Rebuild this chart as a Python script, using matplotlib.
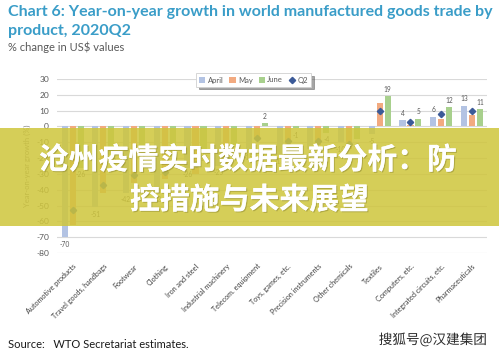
import matplotlib
matplotlib.use("Agg")
import matplotlib.pyplot as plt
import matplotlib.patheffects as pe
from matplotlib.patches import Rectangle
import numpy as np

categories = ["Automotive products", "Travel goods, handbags", "Footwear", "Clothing",
              "Iron and steel", "Industrial machinery", "Telecom. equipment",
              "Toys, games, etc.", "Precision instruments", "Other chemicals",
              "Textiles", "Computers, etc.", "Integrated circuits, etc.", "Pharmaceuticals"]
april = [-70, -51, -42, -42, -26, -25, -15, -18, -14, -10, -5, 4, 6, 13]
may = [-62, -42, -36, -33, -30, -24, -8, -12, -12, -14, 15, 1, 5, 7]
june = [-26, -18, -15, -12, -16, -12, 2, -1, -4, -8, 19, 5, 12, 11]
q2 = [-53, -37, -31, -29, -24, -20, -7, -9, -9, -11, 10, 3, 8, 10]
yticks = [30, 20, 10, 0, -10, -20, -30, -40, -50, -60, -70, -80]

W, H = 499, 356
fig = plt.figure(figsize=(W / 100, H / 100), dpi=100)
fig.patch.set_facecolor("white")

def fx(px):
    return px / W

def fy(py):
    return 1 - py / H

left, right = 57.35, 487.2
bottom_px, top_px = 253, 79
ax = fig.add_axes([fx(left), fy(bottom_px), fx(right - left), fy(top_px) - fy(bottom_px)])
ax.set_xlim(-0.5, 13.5)
ax.set_ylim(-80, 30)

c_apr, c_may, c_jun, c_q2 = "#b3c3e3", "#f2aa80", "#a8d08d", "#3b5a98"
x = np.arange(len(categories))
bw = 0.2
off = 0.26
b1 = ax.bar(x - off, april, bw, color=c_apr, zorder=2, label="April")
b2 = ax.bar(x, may, bw, color=c_may, zorder=2, label="May")
b3 = ax.bar(x + off, june, bw, color=c_jun, zorder=2, label="June")
l4, = ax.plot(x, q2, "D", ms=3.2, color=c_q2, zorder=3, label="Q2", linestyle="none")

for xs, vals in ((x - off, april), (x + off, june)):
    for xi, v in zip(xs, vals):
        dy = 2.2 if v >= 0 else -2.2
        ax.text(xi, v + dy, f"{v}", ha="center", va="bottom" if v >= 0 else "top",
                fontsize=4.8, color="#595959", family="Lato", zorder=4)

ax.set_yticks(yticks)
ax.set_yticklabels([str(t) for t in yticks], fontsize=6, color="#595959", family="Lato")
ax.set_xticks(x)
ax.set_xticklabels(categories, rotation=45, ha="right", rotation_mode="anchor",
                   fontsize=5.2, color="#404040", family="Lato")
ax.tick_params(axis="both", length=0, pad=6)
ax.tick_params(axis="x", pad=7)
for s in ax.spines.values():
    s.set_visible(False)
ax.yaxis.grid(True, color="#d9d9d9", lw=0.8, zorder=0)
ax.set_axisbelow(True)
ax.set_ylabel("Year-on-year growth (%)", fontsize=5.5, color="#7f7f7f", family="Lato", labelpad=4)

leg = fig.legend(handles=[b1, b2, b3, l4], labels=["April", "May", "June", "Q2"],
                 loc="center", bbox_to_anchor=(fx(253.5), fy(80)), ncol=4,
                 frameon=True, fancybox=False, shadow=True, handlelength=0.8, handleheight=0.8,
                 handletextpad=0.3, columnspacing=0.8, borderpad=0.4,
                 prop={"family": "Lato", "size": 5.5})
leg.get_frame().set_edgecolor("#d0d0d0")
leg.get_frame().set_linewidth(0.6)
for t in leg.get_texts():
    t.set_color("#595959")

fig.text(fx(8), fy(12), "Chart 6: Year-on-year growth in world manufactured goods trade by",
         fontsize=11.5, color="#3a9dc8", family="Lato", weight="bold", va="center", ha="left")
fig.text(fx(8), fy(31), "product, 2020Q2",
         fontsize=11.5, color="#3a9dc8", family="Lato", weight="bold", va="center", ha="left")
fig.text(fx(8), fy(47), "% change in US$ values", fontsize=8, color="#595959",
         family="Lato", va="center", ha="left")
fig.text(fx(8), fy(344), "Source:   WTO Secretariat estimates.", fontsize=8, color="#1a1a1a",
         family="Lato", va="center", ha="left")

# overlay banner
banner = Rectangle((0, fy(226)), 1, (226 - 128) / H, transform=fig.transFigure,
                   facecolor=(0.81, 0.775, 0.24), alpha=0.86, edgecolor="none", zorder=5)
fig.patches.append(banner)
shadow = [pe.withSimplePatchShadow(offset=(0.8, -0.8), shadow_rgbFace="#8a8530", alpha=0.5), pe.Normal()]
fig.text(0.497, fy(160), "沧州疫情实时数据最新分析：防", fontsize=21.5, color="white",
         family=["Noto Sans CJK SC", "DejaVu Sans"], weight="bold", ha="center", va="center",
         zorder=6, path_effects=shadow)
fig.text(0.5, fy(200), "控措施与未来展望", fontsize=21.5, color="white",
         family=["Noto Sans CJK SC", "DejaVu Sans"], weight="bold", ha="center", va="center",
         zorder=6, path_effects=shadow)

fig.text(fx(487), fy(340), "搜狐号@汉建集团", fontsize=9.8, color="#2a2a2a",
         family=["Noto Sans CJK SC", "DejaVu Sans"], ha="right", va="center", zorder=6,
         path_effects=[pe.withStroke(linewidth=1.5, foreground="white")])

fig.savefig("out.png", dpi=100, facecolor="white")
